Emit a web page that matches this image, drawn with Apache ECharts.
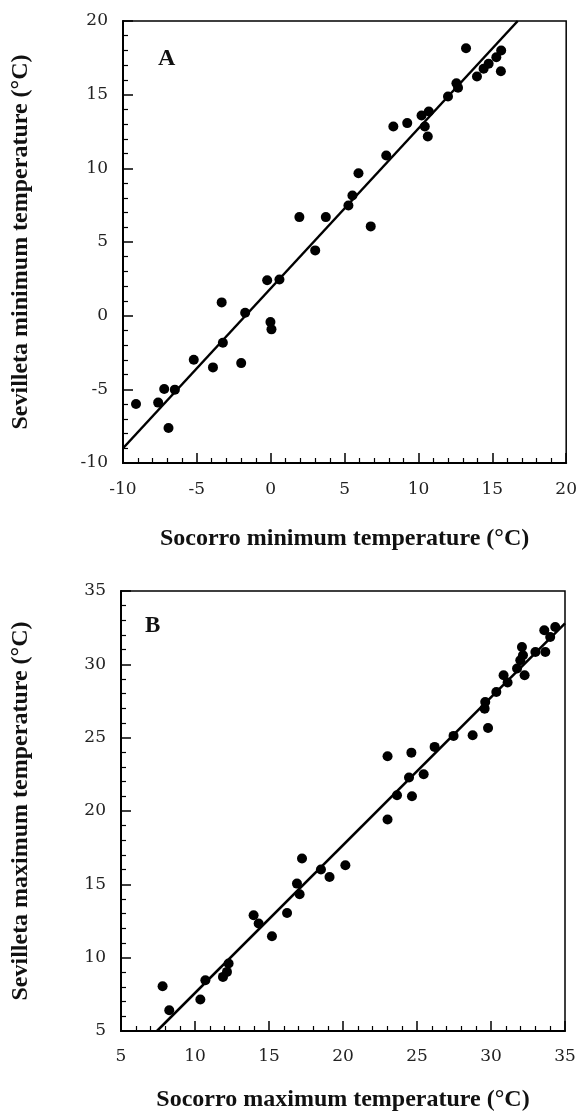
<!DOCTYPE html>
<html>
<head>
<meta charset="utf-8">
<script src="https://cdn.jsdelivr.net/npm/echarts@6/dist/echarts.min.js"></script>
<style>
html,body{margin:0;padding:0;background:#fff;}
#c{width:580px;height:1115px;}
</style>
</head>
<body>
<div id="c"></div>
<script>
// Panel A: minimum temperatures (°C)
const socorroMinA   = [-9.12,-7.62,-7.21,-6.92,-6.49,-5.21,-3.91,-3.32,-3.24,-2.00,-1.73,-0.24,-0.02,0.05,0.59,1.94,3.01,3.73,5.26,5.53,5.94,6.77,7.82,8.30,9.24,10.21,10.43,10.70,10.63,12.00,12.57,12.68,13.22,13.96,14.41,14.75,15.27,15.60,15.58];
const sevilletaMinA = [-6.00,-5.90,-4.98,-7.62,-5.02,-2.99,-3.51,0.90,-1.84,-3.22,0.20,2.40,-0.43,-0.93,2.46,6.69,4.43,6.69,7.48,8.16,9.67,6.06,10.87,12.84,13.07,13.59,12.84,13.86,12.16,14.88,15.78,15.47,18.15,16.23,16.76,17.10,17.54,18.00,16.59];
const fitA_x = [-10, 16.72];
const fitA_y = [-9.0, 20];

// Panel B: maximum temperatures (°C)
const socorroMaxB   = [7.81,8.26,10.36,10.70,11.89,12.16,12.27,13.96,14.30,15.20,16.22,16.89,17.07,17.23,18.51,19.09,20.16,23.01,23.01,23.65,24.66,24.46,24.62,25.45,26.19,27.47,28.76,29.80,29.57,29.61,30.36,30.85,31.12,31.76,31.98,32.09,32.16,32.27,33.00,33.67,33.60,34.00,34.34];
const sevilletaMaxB = [8.05,6.42,7.15,8.46,8.69,9.03,9.60,12.89,12.33,11.46,13.05,15.05,14.32,16.76,16.01,15.50,16.30,19.42,23.73,21.07,21.00,22.28,23.98,22.50,24.37,25.12,25.16,25.66,26.98,27.43,28.11,29.25,28.76,29.71,30.28,31.18,30.62,29.25,30.84,30.84,32.32,31.86,32.55];
const fitB_x = [7.43, 35];
const fitB_y = [5.0, 32.8];

const ticksA = {min:-10, max:20, interval:5};
const ticksB = {min:5, max:35, interval:5};

const zip = (xs, ys) => xs.map((x, i) => [x, ys[i]]);

const serif = '"Liberation Serif", "DejaVu Serif", serif';
const tickFont = '"DejaVu Serif", "Liberation Serif", serif';

function axisCommon(t, extra, margin) {
  return Object.assign({
    type: 'value',
    min: t.min, max: t.max, interval: t.interval,
    axisLine: {show: true, onZero: false, lineStyle: {color: '#000', width: 2}},
    axisTick: {show: true, inside: true, length: 10, lineStyle: {color: '#000', width: 1.5}},
    minorTick: {show: true, splitNumber: 5, length: 5, lineStyle: {color: '#000', width: 1.2}},
    splitLine: {show: false},
    minorSplitLine: {show: false},
    axisLabel: {color: '#222', fontFamily: tickFont, fontSize: 17, margin: margin, showMinLabel: true, showMaxLabel: true},
    nameLocation: 'middle',
    nameTextStyle: {color: '#111', fontFamily: serif, fontSize: 24, fontWeight: 'bold'}
  }, extra);
}

const chart = echarts.init(document.getElementById('c'), null, {renderer: 'canvas'});
chart.setOption({
  backgroundColor: '#fff',
  animation: false,
  title: [
    {text: 'A', left: 153, top: 42, textStyle: {fontFamily: serif, fontSize: 24, fontWeight: 'bold', color: '#111'}},
    {text: 'B', left: 140, top: 610, textStyle: {fontFamily: serif, fontSize: 23, fontWeight: 'bold', color: '#111'}}
  ],
  grid: [
    {left: 123, top: 21, width: 445, height: 442, show: true, borderColor: '#000', borderWidth: 1.5, backgroundColor: 'transparent'},
    {left: 121, top: 591, width: 444, height: 440, show: true, borderColor: '#000', borderWidth: 1.5, backgroundColor: 'transparent'}
  ],
  xAxis: [
    axisCommon(ticksA, {gridIndex: 0, name: 'Socorro minimum temperature (°C)', nameGap: 64}, 18),
    axisCommon(ticksB, {gridIndex: 1, name: 'Socorro maximum temperature (°C)', nameGap: 57}, 17)
  ],
  yAxis: [
    axisCommon(ticksA, {gridIndex: 0, name: 'Sevilleta minimum temperature (°C)', nameGap: 90}, 15),
    axisCommon(ticksB, {gridIndex: 1, name: 'Sevilleta maximum temperature (°C)', nameGap: 88}, 15)
  ],
  series: [
    {type: 'line', xAxisIndex: 0, yAxisIndex: 0, data: zip(fitA_x, fitA_y), symbol: 'none', clip: true,
      lineStyle: {color: '#000', width: 2.5}, z: 2},
    {type: 'scatter', xAxisIndex: 0, yAxisIndex: 0, data: zip(socorroMinA, sevilletaMinA), symbolSize: 10,
      itemStyle: {color: '#000', opacity: 1}, z: 3},
    {type: 'line', xAxisIndex: 1, yAxisIndex: 1, data: zip(fitB_x, fitB_y), symbol: 'none', clip: true,
      lineStyle: {color: '#000', width: 2.5}, z: 2},
    {type: 'scatter', xAxisIndex: 1, yAxisIndex: 1, data: zip(socorroMaxB, sevilletaMaxB), symbolSize: 10,
      itemStyle: {color: '#000', opacity: 1}, z: 3}
  ]
});
</script>
</body>
</html>
